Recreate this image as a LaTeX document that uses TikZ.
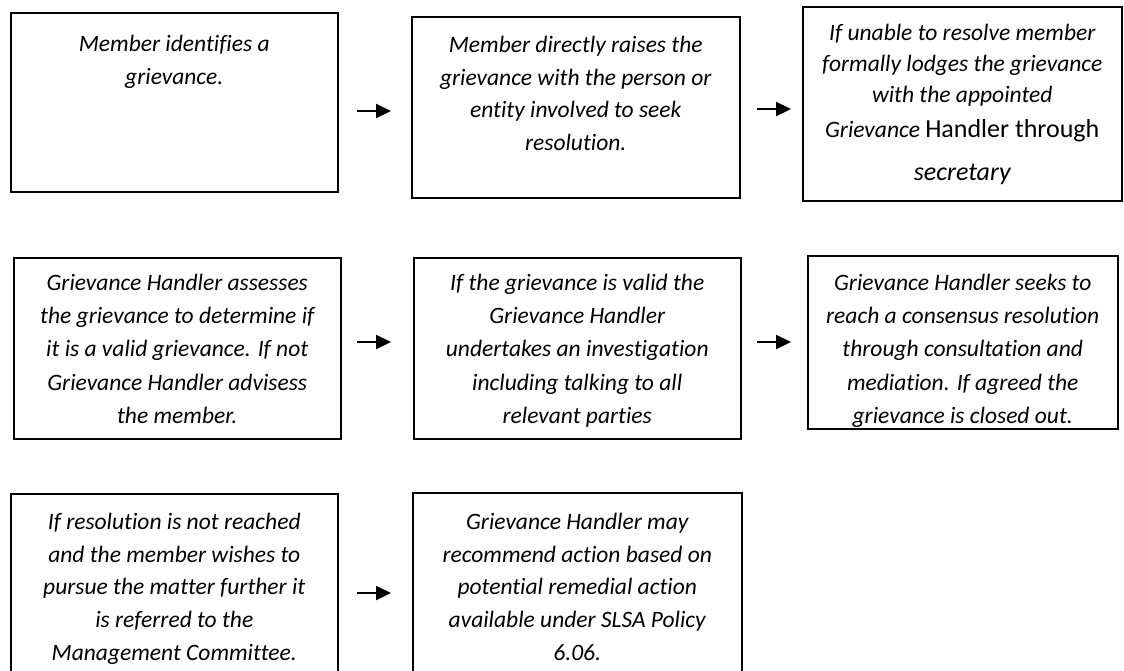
\documentclass[tikz,border=0pt]{standalone}
\usepackage{fontspec}
\setmainfont{Carlito}[Ligatures=NoCommon]
\usepackage{tikz}
\usetikzlibrary{arrows.meta, positioning}
\definecolor{lineDark}{HTML}{000000}
\tikzset{
  arrowK/.style={-{Triangle[length=15pt, width=14pt]}, lineDark, line width=2.2pt},
  boxK/.style={rectangle, draw=lineDark, line width=1.5pt, fill=white,
               anchor=north west, inner sep=0pt},
  txtK/.style={anchor=north, align=center, inner sep=0pt,
               font=\itshape\fontsize{23.5}{32.7}\selectfont},
  txtW/.style={txtK, font=\itshape\fontsize{23.5}{33.2}\selectfont},
}

\begin{document}
\begin{tikzpicture}[x=1pt, y=-1pt]
    \useasboundingbox (0,0) rectangle (1124,670);
    \clip (0,0) rectangle (1124,670);
    % row 1
    \node[boxK, minimum width=327pt, minimum height=179pt] (b1) at (10,12) {};
    \node[boxK, minimum width=328pt, minimum height=181pt] (b2) at (411,16) {};
    \node[boxK, minimum width=319pt, minimum height=194pt] (b3) at (802,6) {};
    \node[txtK, below=23pt of b1.north] (t1) {Member identifies a\\grievance.};
    \node[txtK, below=20pt of b2.north] (t2) {Member directly raises the\\grievance with the person or\\entity involved to seek\\resolution.};
    \node[txtK, font=\itshape\fontsize{23.5}{31}\selectfont, below=18pt of b3.north] (t3)
      {If unable to resolve member\\formally lodges the grievance\\with the appointed\\[4pt]
      Grievance {\upshape\fontsize{26}{31}\selectfont Handler through}\\[12pt]
      {\fontsize{26}{31}\selectfont secretary}};
    % row 2
    \node[boxK, minimum width=327pt, minimum height=181pt] (b4) at (13,257) {};
    \node[boxK, minimum width=327pt, minimum height=181pt] (b5) at (413,257) {};
    \node[boxK, minimum width=310pt, minimum height=173pt] (b6) at (807,255) {};
    \node[txtW, below=17pt of b4.north] (t4) {Grievance Handler assesses\\the grievance to determine if\\it is a valid grievance. If not\\Grievance Handler advisess\\the member.};
    \node[txtW, below=17pt of b5.north] (t5) {If the grievance is valid the\\Grievance Handler\\undertakes an investigation\\including talking to all\\relevant parties};
    \node[txtW, below=19pt of b6.north] (t6) {Grievance Handler seeks to\\reach a consensus resolution\\through consultation and\\mediation. If agreed the\\grievance is closed out.};
    % row 3
    \node[boxK, minimum width=327pt, minimum height=200pt] (b7) at (10,493) {};
    \node[boxK, minimum width=329pt, minimum height=200pt] (b8) at (412,492) {};
    \node[txtK, below=20pt of b7.north] (t7) {If resolution is not reached\\and the member wishes to\\pursue the matter further it\\is referred to the\\Management Committee.};
    \node[txtK, below=21pt of b8.north] (t8) {Grievance Handler may\\recommend action based on\\potential remedial action\\available under SLSA Policy\\6.06.};
    % arrows
    \coordinate (a1s) at (357,111); \coordinate (a1e) at (391,111);
    \coordinate (a2s) at (757,109); \coordinate (a2e) at (791,109);
    \coordinate (a3s) at (357,342); \coordinate (a3e) at (391,342);
    \coordinate (a4s) at (757,342); \coordinate (a4e) at (791,342);
    \coordinate (a5s) at (357,593); \coordinate (a5e) at (391,593);
    \foreach \i in {1,...,5}
      \draw[arrowK] (a\i s) -- (a\i e);
\end{tikzpicture}
\end{document}
